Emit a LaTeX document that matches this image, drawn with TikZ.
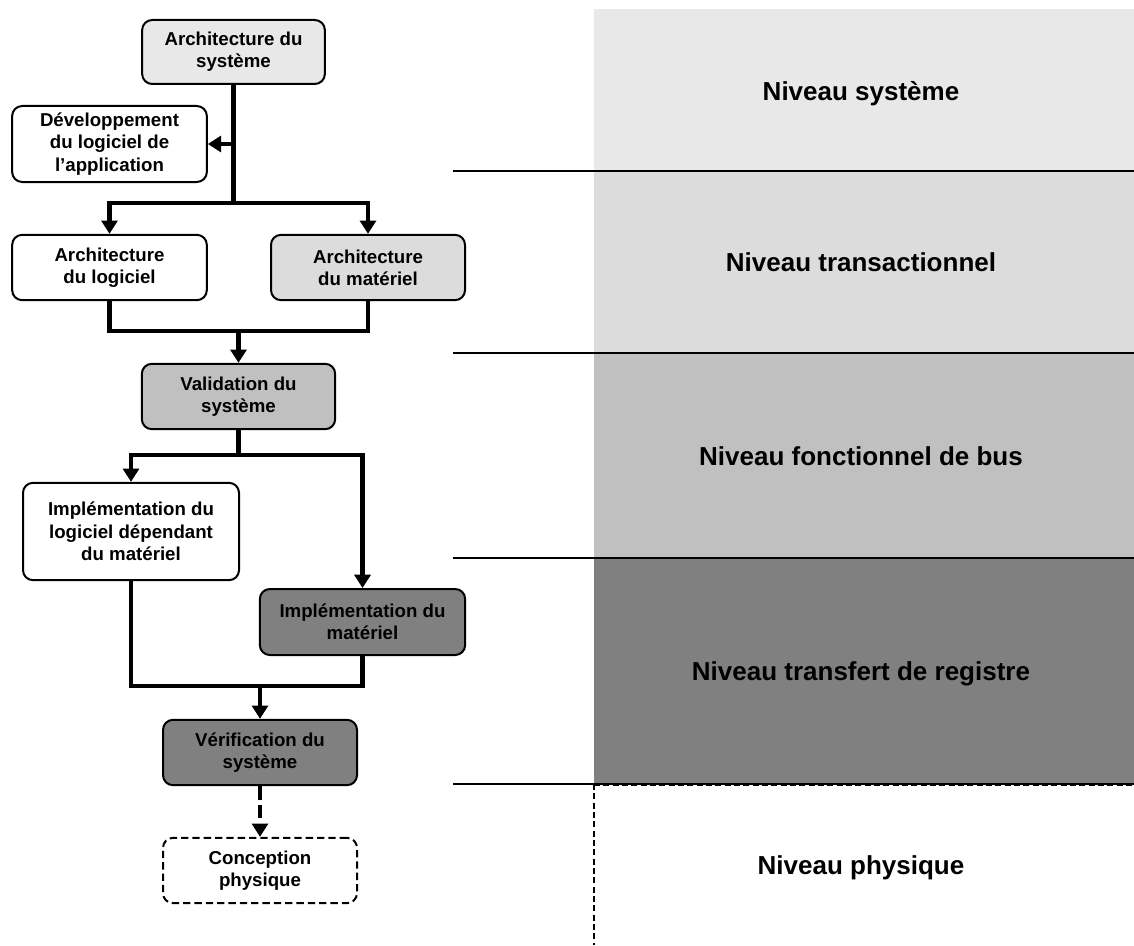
\documentclass[tikz,border=0pt]{standalone}
\usepackage{fontspec}
\setmainfont{Liberation Sans}
\usetikzlibrary{arrows.meta}
\definecolor{gA}{HTML}{E8E8E8}
\definecolor{gB}{HTML}{DCDCDC}
\definecolor{gC}{HTML}{C0C0C0}
\definecolor{gD}{HTML}{808080}
\tikzset{
  box/.style={draw=black, line width=1.5pt, rounded corners=7.5pt, align=center,
    inner sep=0pt, font=\bfseries\fontsize{14}{16.7}\selectfont, fill=white},
  conn/.style={draw=black, line width=3.6pt},
  arr/.style={-{Triangle[width=12pt,length=10pt]}},
  sep/.style={draw=black, line width=1.3pt},
  lvl/.style={font=\bfseries\fontsize{19.5}{22}\selectfont, anchor=base, inner sep=0pt},
}
\begin{document}
\begin{tikzpicture}[x=0.75pt,y=-0.75pt]
\useasboundingbox (0,0) rectangle (1134,945);
% bands
\fill[gA] (594,9) rectangle (1134,171);
\fill[gB] (594,171) rectangle (1134,353);
\fill[gC] (594,353) rectangle (1134,558);
\fill[gD] (594,558) rectangle (1134,784);
\draw[sep] (453,171) -- (1134,171);
\draw[sep] (453,353) -- (1134,353);
\draw[sep] (453,558) -- (1134,558);
\draw[sep] (453,784) -- (1134,784);
\draw[black, line width=1.2pt, dash pattern=on 4.5pt off 2.5pt] (594,785.5) -- (1134,785.5);
\draw[black, line width=1.2pt, dash pattern=on 4.5pt off 2.5pt] (594,784) -- (594,945);
% level labels
\node[lvl] (l1) at (861,100.5) {Niveau système};
\node[lvl] (l2) at (861,271.5) {Niveau transactionnel};
\node[lvl] (l3) at (861,465) {Niveau fonctionnel de bus};
\node[lvl] (l4) at (861,680.5) {Niveau transfert de registre};
\node[lvl] (l5) at (861,874) {Niveau physique};
% boxes
\node[box, fill=gA, minimum width=137pt, minimum height=48pt] (sys) at (233.5,52) {Architecture du\\système};
\node[box, minimum width=146pt, minimum height=57pt] (dev) at (109.5,144) {Développement\\du logiciel de\\l’application};
\node[box, minimum width=146pt, minimum height=49pt] (alog) at (109.5,267.5) {Architecture\\du logiciel};
\node[box, fill=gB, minimum width=145.5pt, minimum height=49pt] (amat) at (368,267.5) {Architecture\\du matériel};
\node[box, fill=gC, minimum width=145pt, minimum height=49pt] (val) at (238.5,396.5) {Validation du\\système};
\node[box, minimum width=162pt, minimum height=73pt] (ilog) at (131,531.5) {Implémentation du\\logiciel dépendant\\du matériel};
\node[box, fill=gD, minimum width=154pt, minimum height=49.5pt] (imat) at (362.5,622) {Implémentation du\\matériel};
\node[box, fill=gD, minimum width=145.5pt, minimum height=49pt] (ver) at (260,752.5) {Vérification du\\système};
\node[box, dash pattern=on 5.5pt off 3pt, minimum width=145.5pt, minimum height=49pt] (con) at (260,870.5) {Conception\\physique};
% junctions
\coordinate (j1) at (233.5,203);
\coordinate (j2) at (238.5,331);
\coordinate (j3) at (238.5,455);
\coordinate (j4) at (260,686);
% connectors
\draw[conn] (sys.south) -- (j1);
\draw[conn,arr] (j1 |- dev.east) -- (dev.east);
\draw[conn,arr] (j1) -| (alog.north);
\draw[conn,arr] (j1) -| (amat.north);
\draw[conn] (alog.south) |- (amat.south |- j2) -- (amat.south);
\draw[conn,arr] (j2) -- (val.north);
\draw[conn] (val.south) -- (j3);
\draw[conn,arr] (j3) -| (ilog.north);
\draw[conn,arr] (j3) -| (imat.north);
\draw[conn] (ilog.south) |- (imat.south |- j4) -- (imat.south);
\draw[conn,arr] (j4) -- (ver.north);
\draw[conn,arr,dash pattern=on 10pt off 4pt] (ver.south) -- (con.north);
\end{tikzpicture}
\end{document}
